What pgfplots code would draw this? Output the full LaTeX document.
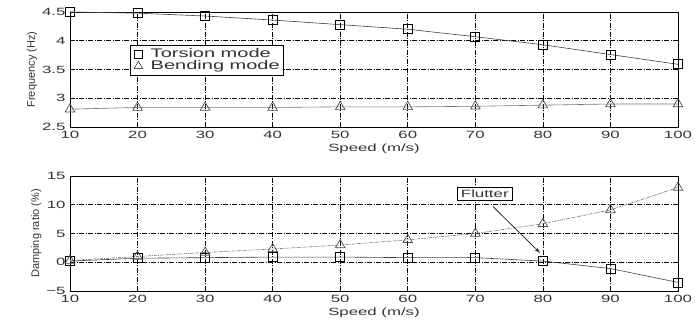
\documentclass[border=0pt]{standalone}
\usepackage{fontspec}
\setmainfont{Liberation Sans}[FakeStretch=1.6]
\newfontfamily\plainfont{Liberation Sans}
\usepackage{pgfplots}
\pgfplotsset{compat=1.18}
\begin{document}
\begin{tikzpicture}[x=1pt,y=1pt]
\path[use as bounding box] (0,0) rectangle (695,323);
\pgfplotsset{
  myax/.style={
    scale only axis, width=608pt, height=115pt,
    xmin=10, xmax=100, xtick={10,20,...,100},
    grid=major,
    major grid style={black, line width=0.6pt, dash pattern=on 5pt off 1.5pt on 1pt off 1.5pt},
    axis line style={black, line width=0.9pt},
    tick style={draw=none},
    tick label style={font=\fontsize{10.5}{12}\selectfont, text=black!80},
    label style={font=\fontsize{10.5}{12}\selectfont, text=black!80},
    /pgf/number format/assume math mode=true,
    xlabel={Speed (m/s)},
    xlabel style={yshift=2pt},
    xticklabel style={yshift=-1pt},
    yticklabel style={xshift=-1pt},
    ylabel style={yshift=-2pt, font=\plainfont\fontsize{11}{12}\selectfont},
    clip=false,
  }
}
\begin{axis}[myax, at={(70pt,196pt)}, anchor=south west,
  ymin=2.5, ymax=4.5, ytick={2.5,3,3.5,4,4.5},
  yticklabels={2.5,3,3.5,4,4.5},
  ylabel={Frequency (Hz)},
  legend style={at={(0.099,0.713)}, anchor=north west, draw=black, line width=0.7pt,
    font=\fontsize{12.5}{14}\selectfont, text=black!80, inner sep=1.5pt, row sep=-2.5pt},
  legend cell align=left]
\addlegendimage{legend image code/.code={\path (0pt,0pt) (16pt,0pt); \draw[black, thin] plot[mark=square, mark size=4pt] coordinates {(6pt,0pt)};}}
\addlegendentry{Torsion mode}
\addlegendimage{legend image code/.code={\path (0pt,0pt) (16pt,0pt); \draw[black, thin] plot[mark=triangle, mark size=5pt] coordinates {(6pt,0pt)};}}
\addlegendentry{Bending mode}
\addplot[black!75, line width=0.6pt, mark=square, mark size=4.5pt, mark options={black, solid, line width=0.7pt}] coordinates {
(10,4.50)(20,4.48)(30,4.43)(40,4.36)(50,4.28)(60,4.20)(70,4.07)(80,3.93)(90,3.76)(100,3.59)};
\addplot[black!55, line width=0.6pt, mark=triangle, mark size=5.5pt, mark options={black!70, solid, line width=0.7pt}] coordinates {
(10,2.81)(20,2.84)(30,2.84)(40,2.84)(50,2.85)(60,2.85)(70,2.86)(80,2.88)(90,2.90)(100,2.90)};
\end{axis}
\begin{axis}[myax, at={(70pt,32pt)}, anchor=south west,
  ymin=-5, ymax=15, ytick={-5,0,5,10,15},
  yticklabels={−5,0,5,10,15},
  ylabel={Damping ratio (\%)}]
\addplot[black!75, line width=0.6pt, mark=square, mark size=4.5pt, mark options={black, solid, line width=0.7pt}] coordinates {
(10,0.2)(20,0.7)(30,0.8)(40,0.9)(50,0.9)(60,0.8)(70,0.8)(80,0.2)(90,-1.1)(100,-3.5)};
\addplot[black!55, line width=0.6pt, dash pattern=on 3pt off 1pt on 1pt off 1pt, mark=triangle, mark size=5.5pt, mark options={black!70, solid, line width=0.7pt}] coordinates {
(10,0.3)(20,1.0)(30,1.7)(40,2.3)(50,3.0)(60,3.9)(70,5.0)(80,6.7)(90,9.1)(100,13.0)};
\node[draw=black, line width=0.8pt, fill=white, inner xsep=4pt, inner ysep=3pt, font=\fontsize{10.5}{12}\selectfont, text=black!80] at (axis cs:71.4,11.9) {Flutter};
\draw[-latex, black!80, line width=0.8pt] (axis cs:72.6,9.7) -- (axis cs:79.6,1.6);
\end{axis}
\end{tikzpicture}
\end{document}
